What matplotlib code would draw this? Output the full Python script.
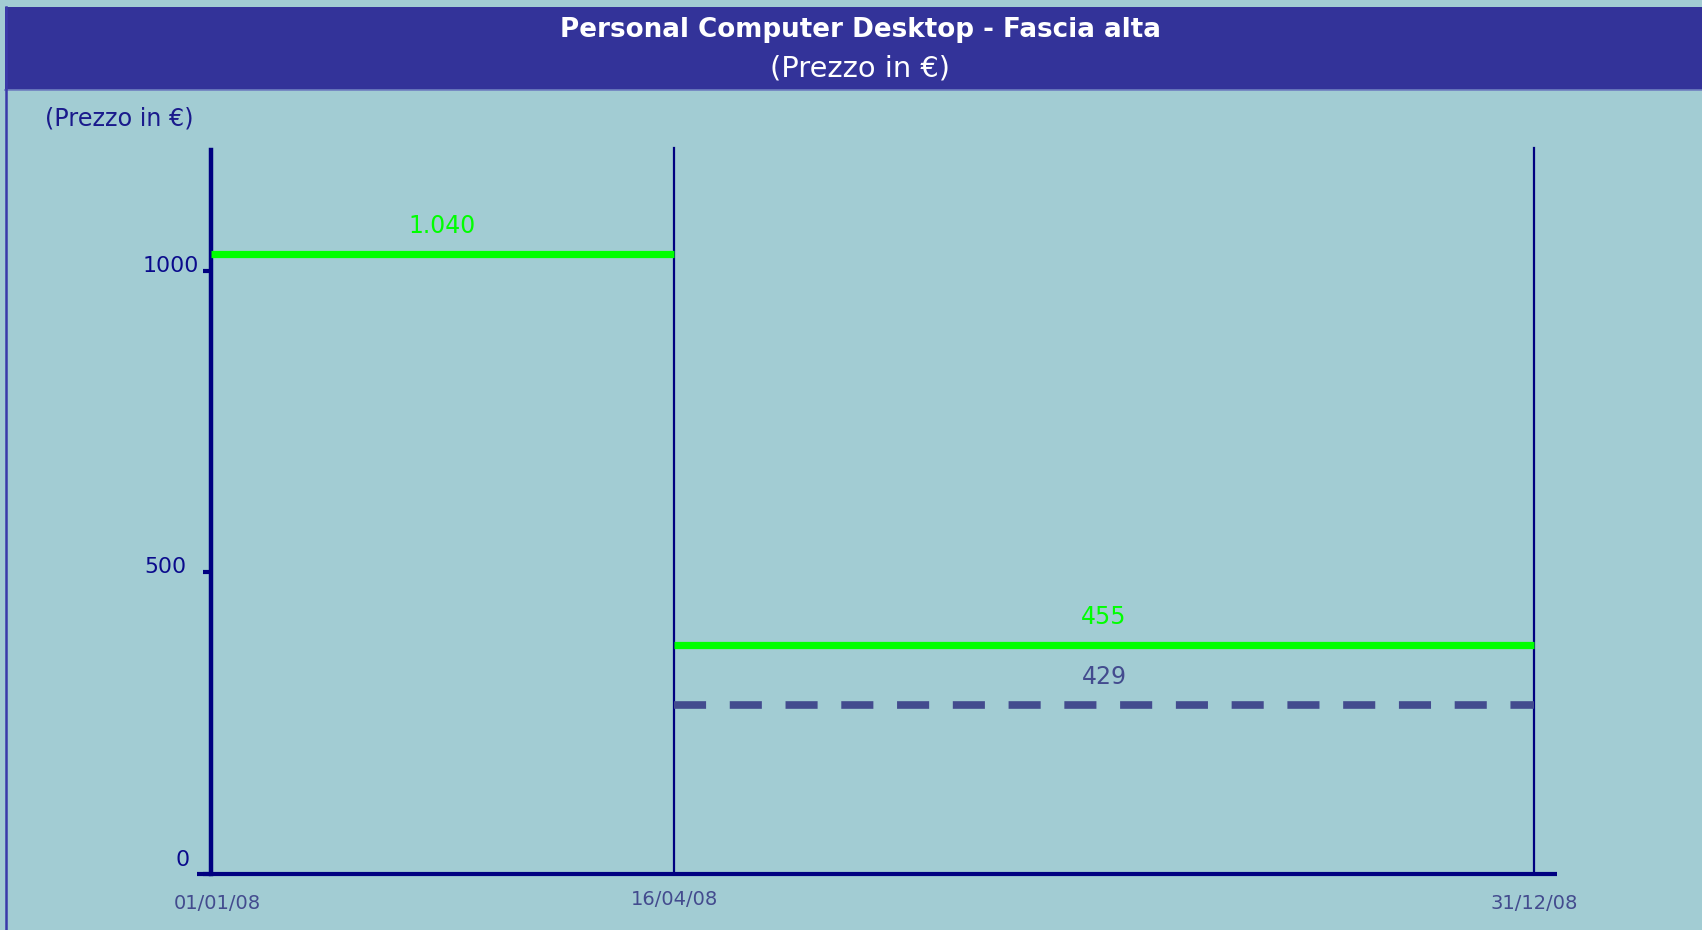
import matplotlib
matplotlib.use("Agg")
import matplotlib.pyplot as plt
import matplotlib.transforms as mtransforms
from matplotlib.patches import Rectangle
from matplotlib.lines import Line2D

# ---- data ----
date_labels = ["01/01/08", "16/04/08", "31/12/08"]
date_pos = [0, 35, 100]                     # positions of the dates along the drawn axis
segment_start = [0, 35, 35]
segment_end = [35, 100, 100]
segment_level = [1028, 380, 280]            # drawn levels
segment_label = ["1.040", "455", "429"]
segment_kind = ["solid", "solid", "dashed"]
y_ticks = [0, 500, 1000]
y_ticklabels = ["0", "500", "1000"]

BG = "#A2CCD3"
BAND = "#333399"
NAVY = "#000080"
SLATE = "#434B8E"
GREEN = "#00FF00"

W, H = 1702, 930
fig = plt.figure(figsize=(W / 100, H / 100), dpi=100)
fig.patch.set_facecolor(BG)

# header band
fig.patches.append(Rectangle((5 / W, 1 - 90 / H), 1 - 5 / W, 83 / H,
                             transform=fig.transFigure, facecolor=BAND,
                             edgecolor="none", zorder=0))
fig.lines.append(Line2D([5 / W, 1], [1 - 90.5 / H] * 2, transform=fig.transFigure,
                        color="#6F7FC0", lw=1.2))
fig.lines.append(Line2D([6 / W] * 2, [0, 1 - 7 / H], transform=fig.transFigure,
                        color="#3A3AAA", lw=1.8))

fig.text(860 / W, 1 - 30 / H, "Personal Computer Desktop - Fascia alta",
         color="white", fontsize=18.8, fontweight="bold", ha="center", va="center",
         family="DejaVu Sans")
fig.text(860 / W, 1 - 68 / H, "(Prezzo in €)", color="white", fontsize=20.8,
         ha="center", va="center", family="DejaVu Sans")
fig.text(45 / W, 1 - 118 / H, "(Prezzo in €)", color="#1A1A8C", fontsize=17.2,
         ha="left", va="center", family="DejaVu Sans")

# axes: x from pixel 197 to 1557, y from 874 (0) to 150 (1200)
px_per_unit = (1534 - 211) / 100.0
xl = (197 - 211) / px_per_unit
xr = (1557 - 211) / px_per_unit
ax = fig.add_axes([197 / W, 1 - 874 / H, (1557 - 197) / W, (874 - 150) / H])
ax.set_facecolor("none")
ax.set_xlim(xl, xr)
ax.set_ylim(0, 1200)

for s in ["top", "right"]:
    ax.spines[s].set_visible(False)
ax.spines["left"].set_position(("data", 0))
ax.spines["left"].set_color(NAVY)
ax.spines["left"].set_linewidth(3.2)
ax.spines["bottom"].set_color(NAVY)
ax.spines["bottom"].set_linewidth(3.0)
ax.spines["bottom"].set_capstyle("butt")

ax.set_yticks(y_ticks)
ax.set_yticklabels(y_ticklabels)
ax.tick_params(axis="y", direction="out", length=5.5, width=3, color=NAVY,
               labelcolor="#0A0A8C", labelsize=15.8, pad=3)
ax.set_xticks(date_pos)
ax.set_xticklabels(date_labels)
ax.tick_params(axis="x", length=0, labelcolor=SLATE, labelsize=14, pad=14)

# small label offsets, as in the reference (pixels: dx, dy)
def shift(lbl, dx, dy):
    lbl.set_transform(lbl.get_transform() +
                      mtransforms.ScaledTranslation(dx / 100, dy / 100, fig.dpi_scale_trans))

ylbls = ax.get_yticklabels()
shift(ylbls[0], -10, 16)
shift(ylbls[1], -13, 7)
shift(ylbls[2], 0, 7)
xlbls = ax.get_xticklabels()
shift(xlbls[0], 6, -1)
shift(xlbls[1], 0, 3)
shift(xlbls[2], 0, -1)

# vertical date lines
for x in date_pos[1:]:
    ax.plot([x, x], [0, 1203], color=NAVY, lw=1.6, clip_on=False, zorder=2)

# price segments
for x0, x1, lvl, lab, kind in zip(segment_start, segment_end, segment_level,
                                  segment_label, segment_kind):
    if kind == "solid":
        ax.plot([x0, x1], [lvl, lvl], color=GREEN, lw=5.2, solid_capstyle="butt",
                zorder=3)
        col = GREEN
    else:
        ax.plot([x0, x1], [lvl, lvl], color=SLATE, lw=5.5, linestyle=(0, (4.2, 3.1)),
                dash_capstyle="butt", zorder=3)
        col = SLATE
    ax.annotate(lab, xy=((x0 + x1) / 2, lvl), xytext=(0, 20),
                textcoords="offset points", ha="center", va="center",
                color=col, fontsize=17)

fig.savefig("out.png", dpi=100, facecolor=BG)
